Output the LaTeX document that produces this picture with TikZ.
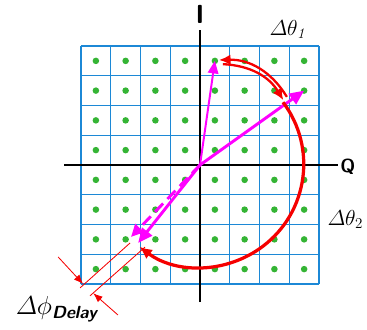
\documentclass[tikz,border=0pt]{standalone}
\usepackage{amsmath,amssymb}
\usepackage{fontspec}
\usepackage{xcolor}
\usetikzlibrary{arrows.meta}

\definecolor{gridblue}{RGB}{28,136,214}
\definecolor{dotgreen}{RGB}{52,180,52}
\definecolor{vecpink}{RGB}{255,0,255}
\definecolor{arcred}{RGB}{245,0,0}

\begin{document}
\begin{tikzpicture}[
    cell/.style={
        draw,
        line width=1.4pt,
        color=gridblue
    },
    dot/.style={
        fill=dotgreen
    },
    axis/.style={
        draw,
        line width=2.8pt,
        color=black
    },
    vec/.style={
        draw,
        -{Triangle[length=14pt,width=12pt]},
        line width=2.8pt,
        color=vecpink
    },
    thinvec/.style={
        draw,
        -{Triangle[length=12pt,width=10pt]},
        line width=1.9pt,
        color=vecpink
    },
    delayvec/.style={
        draw,
        -{Triangle[length=12pt,width=11pt]},
        dash pattern=on 11pt off 6pt,
        line width=2.8pt,
        color=vecpink
    },
    turn/.style={
        draw,
        line width=2.2pt,
        color=arcred
    },
    sweep/.style={
        draw,
        -{Latex[length=12pt,width=11pt]},
        line width=3.1pt,
        color=arcred
    },
    gap/.style={
        draw,
        line width=0.8pt,
        color=arcred
    },
    pointer/.style={
        draw,
        -{Latex[length=9pt,width=7pt]},
        line width=0.8pt,
        color=arcred
    },
    axlabel/.style={
        font=\sffamily\bfseries
    },
    anglabel/.style={
        anchor=base west,
        inner sep=0pt
    }
]
    \useasboundingbox (-6.723,-5.546) rectangle (5.613,5.546);

    % Constellation grid
    \path [cell] (-4,-4) grid (4,4);
    \foreach \x in {-3.5,-2.5,...,3.5}
        \foreach \y in {-3.5,-2.5,...,3.5}
            \fill [dot] (\x,\y) circle (0.11);

    % Axes
    \coordinate (iTop) at (0,4.54);
    \coordinate (iBot) at (0,-4.61);
    \coordinate (qLeft) at (-4.57,0);
    \coordinate (qRight) at (4.64,0);
    \path [axis] (iBot) -- (iTop);
    \path [axis] (qLeft) -- (qRight);
    \node [axlabel, font=\fontsize{25}{25}\selectfont\sffamily\bfseries] (lblI) at (0,5.06) {I};
    \node [axlabel, font=\fontsize{18}{18}\selectfont\sffamily\bfseries] (lblQ) at (4.97,-0.05) {Q};

    % Phase vectors
    \coordinate (orig) at (0,0);
    \coordinate (tipA) at (0.5,3.5);
    \coordinate (tipB) at (3.5,2.5);
    \coordinate (tipC) at (-2.08,-2.62);
    \coordinate (tipD) at (-2.32,-2.42);
    \path [thinvec] (orig) -- (tipA);
    \path [vec] (orig) -- (tipB);
    \path [delayvec] (orig) -- (tipD);
    \path [vec] (orig) -- (tipC);

    % Rotation arcs
    \coordinate (rotA1) at (0.64,3.53);
    \coordinate (rotA2) at (2.92,2.29);
    \coordinate (rotB1) at (0.77,3.39);
    \coordinate (rotB2) at (2.80,2.18);
    \path [turn, {Latex[length=11pt,width=10pt]}-] (rotA1) to[bend left=30] (rotA2);
    \path [turn, -{Latex[length=11pt,width=10pt]}] (rotB1) to[bend left=28] (rotB2);
    \coordinate (sweepStart) at (2.79,2.11);
    \path [sweep] (sweepStart) arc[start angle=37, end angle=-126.6, radius=3.46];

    % Delay marker
    \coordinate (gapA1) at (-2.35,-2.62);
    \coordinate (gapA2) at (-4.03,-4.13);
    \coordinate (gapB1) at (-1.85,-2.76);
    \coordinate (gapB2) at (-3.70,-4.40);
    \path [gap] (gapA1) -- (gapA2);
    \path [gap] (gapB1) -- (gapB2);
    \coordinate (ptrA) at (-4.77,-3.09);
    \coordinate (ptrAend) at (-3.93,-4.00);
    \coordinate (ptrB) at (-2.76,-5.04);
    \coordinate (ptrBend) at (-3.59,-4.31);
    \path [pointer] (ptrA) -- (ptrAend);
    \path [pointer] (ptrB) -- (ptrBend);

    % Labels
    \node [anglabel, font=\fontsize{20}{20}\selectfont] (dth1) at (2.33,4.35) {$\varDelta\theta_{\mathit{1}}$};
    \node [anglabel, font=\fontsize{20}{20}\selectfont] (dth2) at (4.28,-2.02) {$\varDelta\theta_2$};
    \node [anglabel, font=\fontsize{24}{24}\selectfont] (dphi) at (-6.2,-5.04) {$\varDelta\phi_{\text{\sffamily\bfseries\itshape Delay}}$};
\end{tikzpicture}
\end{document}
